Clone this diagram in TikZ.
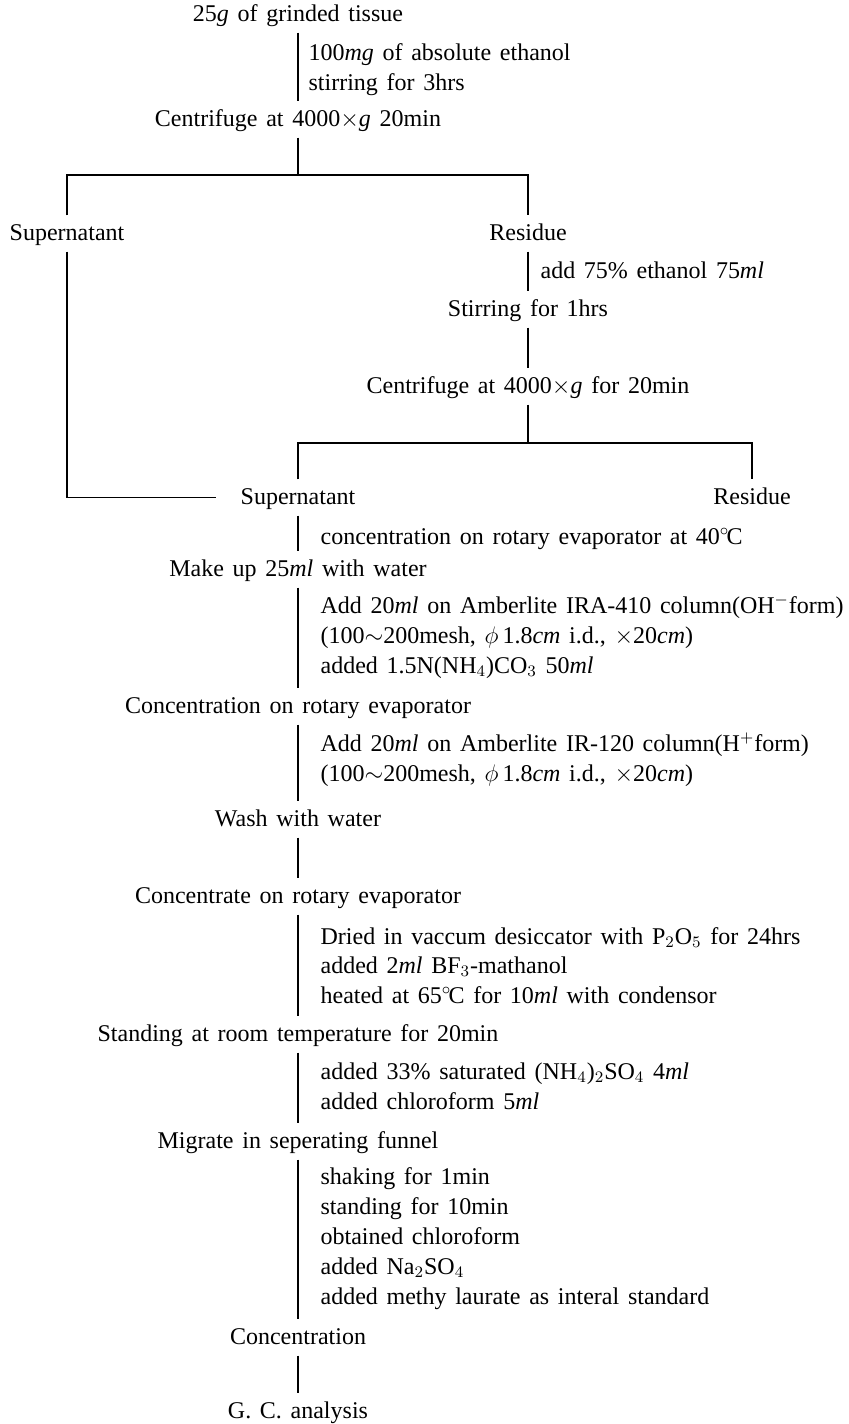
\documentclass[tikz,border=0pt]{standalone}
\usepackage{fontspec}
\setmainfont{Liberation Serif}[WordSpace=1.45]
\usepackage{tikz}
\usetikzlibrary{positioning}
\newcommand{\uml}{\textit{ml}}
\newcommand{\degC}{$^{\circ}$\kern-0.12em C}

\begin{document}
\begin{tikzpicture}[x=0.5pt,y=-0.5pt,line width=0.6pt,
stage/.style={anchor=base,font=\fontsize{12}{15}\selectfont,text height=10pt,text depth=3.5pt,inner xsep=2pt,inner ysep=2pt},
note/.style={anchor=base west,font=\fontsize{12}{15}\selectfont,inner sep=0pt}]
\useasboundingbox (0,0) rectangle (849,1424);
\node[stage] (tissue) at (298,21) {25\textit{g} of grinded tissue};
\node[note] (n1a) at (308,61) {100\textit{mg} of absolute ethanol};
\node[note] (n1b) at (308,90) {stirring for 3hrs};
\node[stage] (cent1) at (298,126) {Centrifuge at 4000$\times$\textit{g} 20min};
\coordinate (sp1) at (298,175);
\node[stage] (sup1) at (67,240) {Supernatant};
\node[stage] (res1) at (528,240) {Residue};
\node[note] (n2) at (540,278) {add 75\%\ ethanol 75\uml};
\node[stage] (stir1) at (528,316) {Stirring for 1hrs};
\node[stage] (cent2) at (528,393) {Centrifuge at 4000$\times$\textit{g} for 20min};
\coordinate (sp2) at (528,443);
\node[stage] (sup2) at (298,504) {Supernatant};
\node[stage] (res2) at (752,504) {Residue};
\node[note] (n3) at (320,544) {concentration on rotary evaporator at 40\degC};
\node[stage] (makeup) at (298,576) {Make up 25\uml\ with water};
\node[note] (n4a) at (320,613) {Add 20\uml\ on Amberlite IRA-410 column(OH$^-$form)};
\node[note] (n4b) at (320,643) {(100$\sim$200mesh, $\phi$\,1.8\textit{cm} i.d., $\times$20\textit{cm})};
\node[note] (n4c) at (320,673) {added 1.5N(NH$_4$)CO$_3$ 50\uml};
\node[stage] (conc1) at (298,713) {Concentration on rotary evaporator};
\node[note] (n5a) at (320,751) {Add 20\uml\ on Amberlite IR-120 column(H$^+$form)};
\node[note] (n5b) at (320,781) {(100$\sim$200mesh, $\phi$\,1.8\textit{cm} i.d., $\times$20\textit{cm})};
\node[stage] (wash) at (298,826) {Wash with water};
\node[stage] (conc2) at (298,903) {Concentrate on rotary evaporator};
\node[note] (n6a) at (320,944) {Dried in vaccum desiccator with P$_2$O$_5$ for 24hrs};
\node[note] (n6b) at (320,973) {added 2\uml\ BF$_3$-mathanol};
\node[note] (n6c) at (320,1003) {heated at 65\degC\ for 10\uml\ with condensor};
\node[stage] (stand) at (298,1041) {Standing at room temperature for 20min};
\node[note] (n7a) at (320,1079) {added 33\%\ saturated (NH$_4$)$_2$SO$_4$ 4\uml};
\node[note] (n7b) at (320,1109) {added chloroform 5\uml};
\node[stage] (migr) at (298,1148) {Migrate in seperating funnel};
\node[note] (n8a) at (320,1184) {shaking for 1min};
\node[note] (n8b) at (320,1214) {standing for 10min};
\node[note] (n8c) at (320,1244) {obtained chloroform};
\node[note] (n8d) at (320,1274) {added Na$_2$SO$_4$};
\node[note] (n8e) at (320,1304) {added methy laurate as interal standard};
\node[stage] (conc3) at (298,1344) {Concentration};
\node[stage] (gc) at (298,1418) {G. C. analysis};
% connectors
\draw (tissue) -- (cent1);
\draw (cent1) -- (sp1);
\draw (sup1) |- (res1 |- sp1) -- (res1);
\draw[shorten >=10pt] (sup1) |- (sup2);
\draw (res1) -- (stir1);
\draw (stir1) -- (cent2);
\draw (cent2) -- (sp2);
\draw (sup2) |- (res2 |- sp2) -- (res2);
\draw (sup2) -- (makeup);
\draw (makeup) -- (conc1);
\draw (conc1) -- (wash);
\draw (wash) -- (conc2);
\draw (conc2) -- (stand);
\draw (stand) -- (migr);
\draw (migr) -- (conc3);
\draw (conc3) -- (gc);
\end{tikzpicture}
\end{document}
